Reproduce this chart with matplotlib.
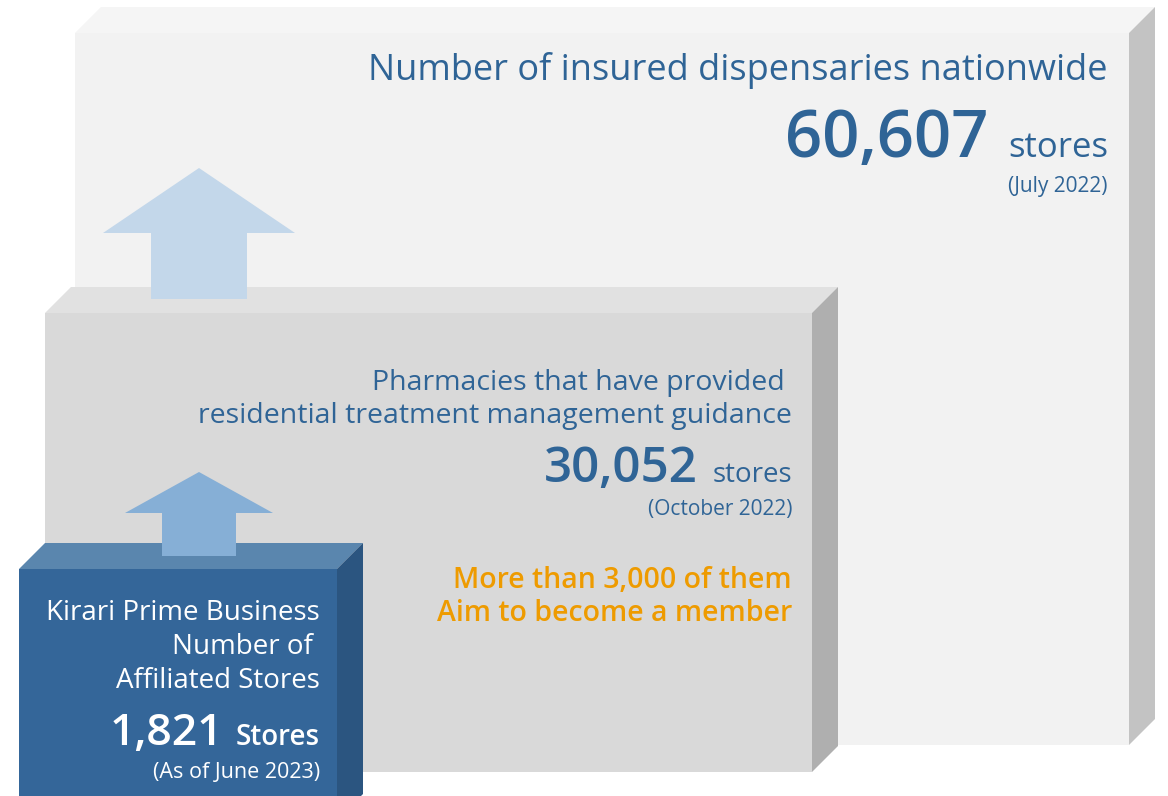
import matplotlib.pyplot as plt
from matplotlib.patches import Polygon

plt.rcParams['font.family'] = ['Open Sans', 'DejaVu Sans']

# --------------------------------------------------------------
# Data
# --------------------------------------------------------------
titles = [
    "Number of insured dispensaries nationwide",
    "Pharmacies that have provided \nresidential treatment management guidance",
    "Kirari Prime Business\nNumber of \nAffiliated Stores",
]
counts = [60607, 30052, 1821]
units = ["stores", "stores", "Stores"]
dates = ["(July 2022)", "(October 2022)", "(As of June 2023)"]
target_note = "More than 3,000 of them\nAim to become a member"

# --------------------------------------------------------------
# Layout (pixel coords, y down)
# --------------------------------------------------------------
W, H = 1168, 796
DEPTH = 26
# x0, x1, top, bottom, front, top face, side
boxes = [
    (75, 1129, 33, 745, "#F2F2F2", "#F5F5F5", "#C3C3C3"),
    (45, 812, 313, 772, "#D9D9D9", "#E1E1E1", "#AFAFAF"),
    (19, 337, 569, 820, "#346699", "#5A86AE", "#2B5580"),
]
# center x, tip y, head base y, head half width, shaft half width, bottom y, color
arrows = [
    (199, 168, 233, 96, 48, 299, "#C3D7EA"),
    (199, 472, 513, 74, 37, 556, "#86AFD6"),
]

BLUE = "#2F6496"
ORANGE = "#EE9B00"


def draw_box(ax, x0, x1, top, bottom, front, topc, side):
    d = DEPTH
    ax.add_patch(Polygon([(x0, top), (x0 + d, top - d), (x1 + d, top - d), (x1, top)],
                         closed=True, fc=topc, ec="none"))
    ax.add_patch(Polygon([(x1, top), (x1 + d, top - d), (x1 + d, bottom - d), (x1, bottom)],
                         closed=True, fc=side, ec="none"))
    ax.add_patch(Polygon([(x0, top), (x1, top), (x1, bottom), (x0, bottom)],
                         closed=True, fc=front, ec="none"))


def draw_arrow(ax, cx, tip, base, hw, sw, bottom, color):
    pts = [(cx, tip), (cx + hw, base), (cx + sw, base), (cx + sw, bottom),
           (cx - sw, bottom), (cx - sw, base), (cx - hw, base)]
    ax.add_patch(Polygon(pts, closed=True, fc=color, ec="none"))


fig = plt.figure(figsize=(W / 100, H / 100), dpi=100)
ax = fig.add_axes([0, 0, 1, 1])
ax.set_xlim(0, W)
ax.set_ylim(H, 0)
ax.axis("off")

for b in boxes:
    draw_box(ax, *b)
for a in arrows:
    draw_arrow(ax, *a)

# big box
ax.text(1108, 80, titles[0], ha="right", va="baseline", fontsize=26, color=BLUE)
ax.text(1108, 157, units[0], ha="right", va="baseline", fontsize=25, color=BLUE)
ax.text(988, 157, f"{counts[0]:,}", ha="right", va="baseline", fontsize=47,
        fontweight="semibold", color=BLUE)
ax.text(1108, 192, dates[0], ha="right", va="baseline", fontsize=15, color=BLUE)

# middle box
ax.text(792, 423, titles[1], ha="right", va="baseline", fontsize=20.5, color=BLUE,
        linespacing=1.22, multialignment="right")
ax.text(792, 482, units[1], ha="right", va="baseline", fontsize=20, color=BLUE)
ax.text(698, 482, f"{counts[1]:,}", ha="right", va="baseline", fontsize=35.5,
        fontweight="semibold", color=BLUE)
ax.text(792, 515, dates[1], ha="right", va="baseline", fontsize=15, color=BLUE)
ax.text(792, 621, target_note, ha="right", va="baseline", fontsize=20.5, color=ORANGE,
        fontweight="semibold", linespacing=1.2, multialignment="right")

# small box
ax.text(320, 688, titles[2], ha="right", va="baseline", fontsize=20, color="white",
        linespacing=1.28, multialignment="right")
ax.text(320, 745, units[2], ha="right", va="baseline", fontsize=20, color="white",
        fontweight="semibold")
ax.text(223, 745, f"{counts[2]:,}", ha="right", va="baseline", fontsize=32,
        fontweight="semibold", color="white")
ax.text(320, 778, dates[2], ha="right", va="baseline", fontsize=15.5, color="white")

fig.savefig("out.png", dpi=100)
